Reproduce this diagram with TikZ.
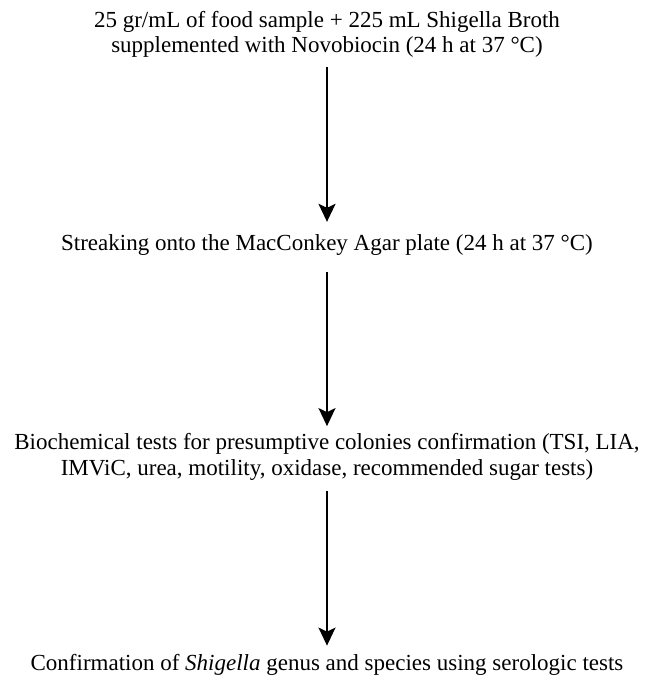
\documentclass[tikz,border=0pt]{standalone}
\usepackage{fontspec}
\setmainfont{Liberation Serif}
\usetikzlibrary{arrows.meta}
\begin{document}
\begin{tikzpicture}[x=1pt,y=-1pt,
  stepbox/.style={inner sep=0pt,align=center,anchor=base,font=\fontsize{23}{25.5}\selectfont},
  flow/.style={line width=1.9pt,-{Stealth[length=18pt,width=17pt,inset=4pt]}}]
\useasboundingbox[fill=white] (0,0) rectangle (646,682);
\node[stepbox] (n1) at (327,53) {25 gr/mL of food sample + 225 mL Shigella Broth\\supplemented with Novobiocin (24 h at 37 °C)};
\node[stepbox] (n2) at (327,250) {Streaking onto the MacConkey Agar plate (24 h at 37 °C)};
\node[stepbox] (n3) at (327,475) {Biochemical tests for presumptive colonies confirmation (TSI, LIA,\\IMViC, urea, motility, oxidase, recommended sugar tests)};
\node[stepbox] (n4) at (327,670) {Confirmation of \textit{Shigella} genus and species using serologic tests};
\draw[flow,shorten <=9pt,shorten >=12pt] (n1.south) -- (n2.north);
\draw[flow,shorten <=17pt,shorten >=7pt] (n2.south) -- (n3.north);
\draw[flow,shorten <=11pt,shorten >=8pt] (n3.south) -- (n4.north);
\end{tikzpicture}
\end{document}
